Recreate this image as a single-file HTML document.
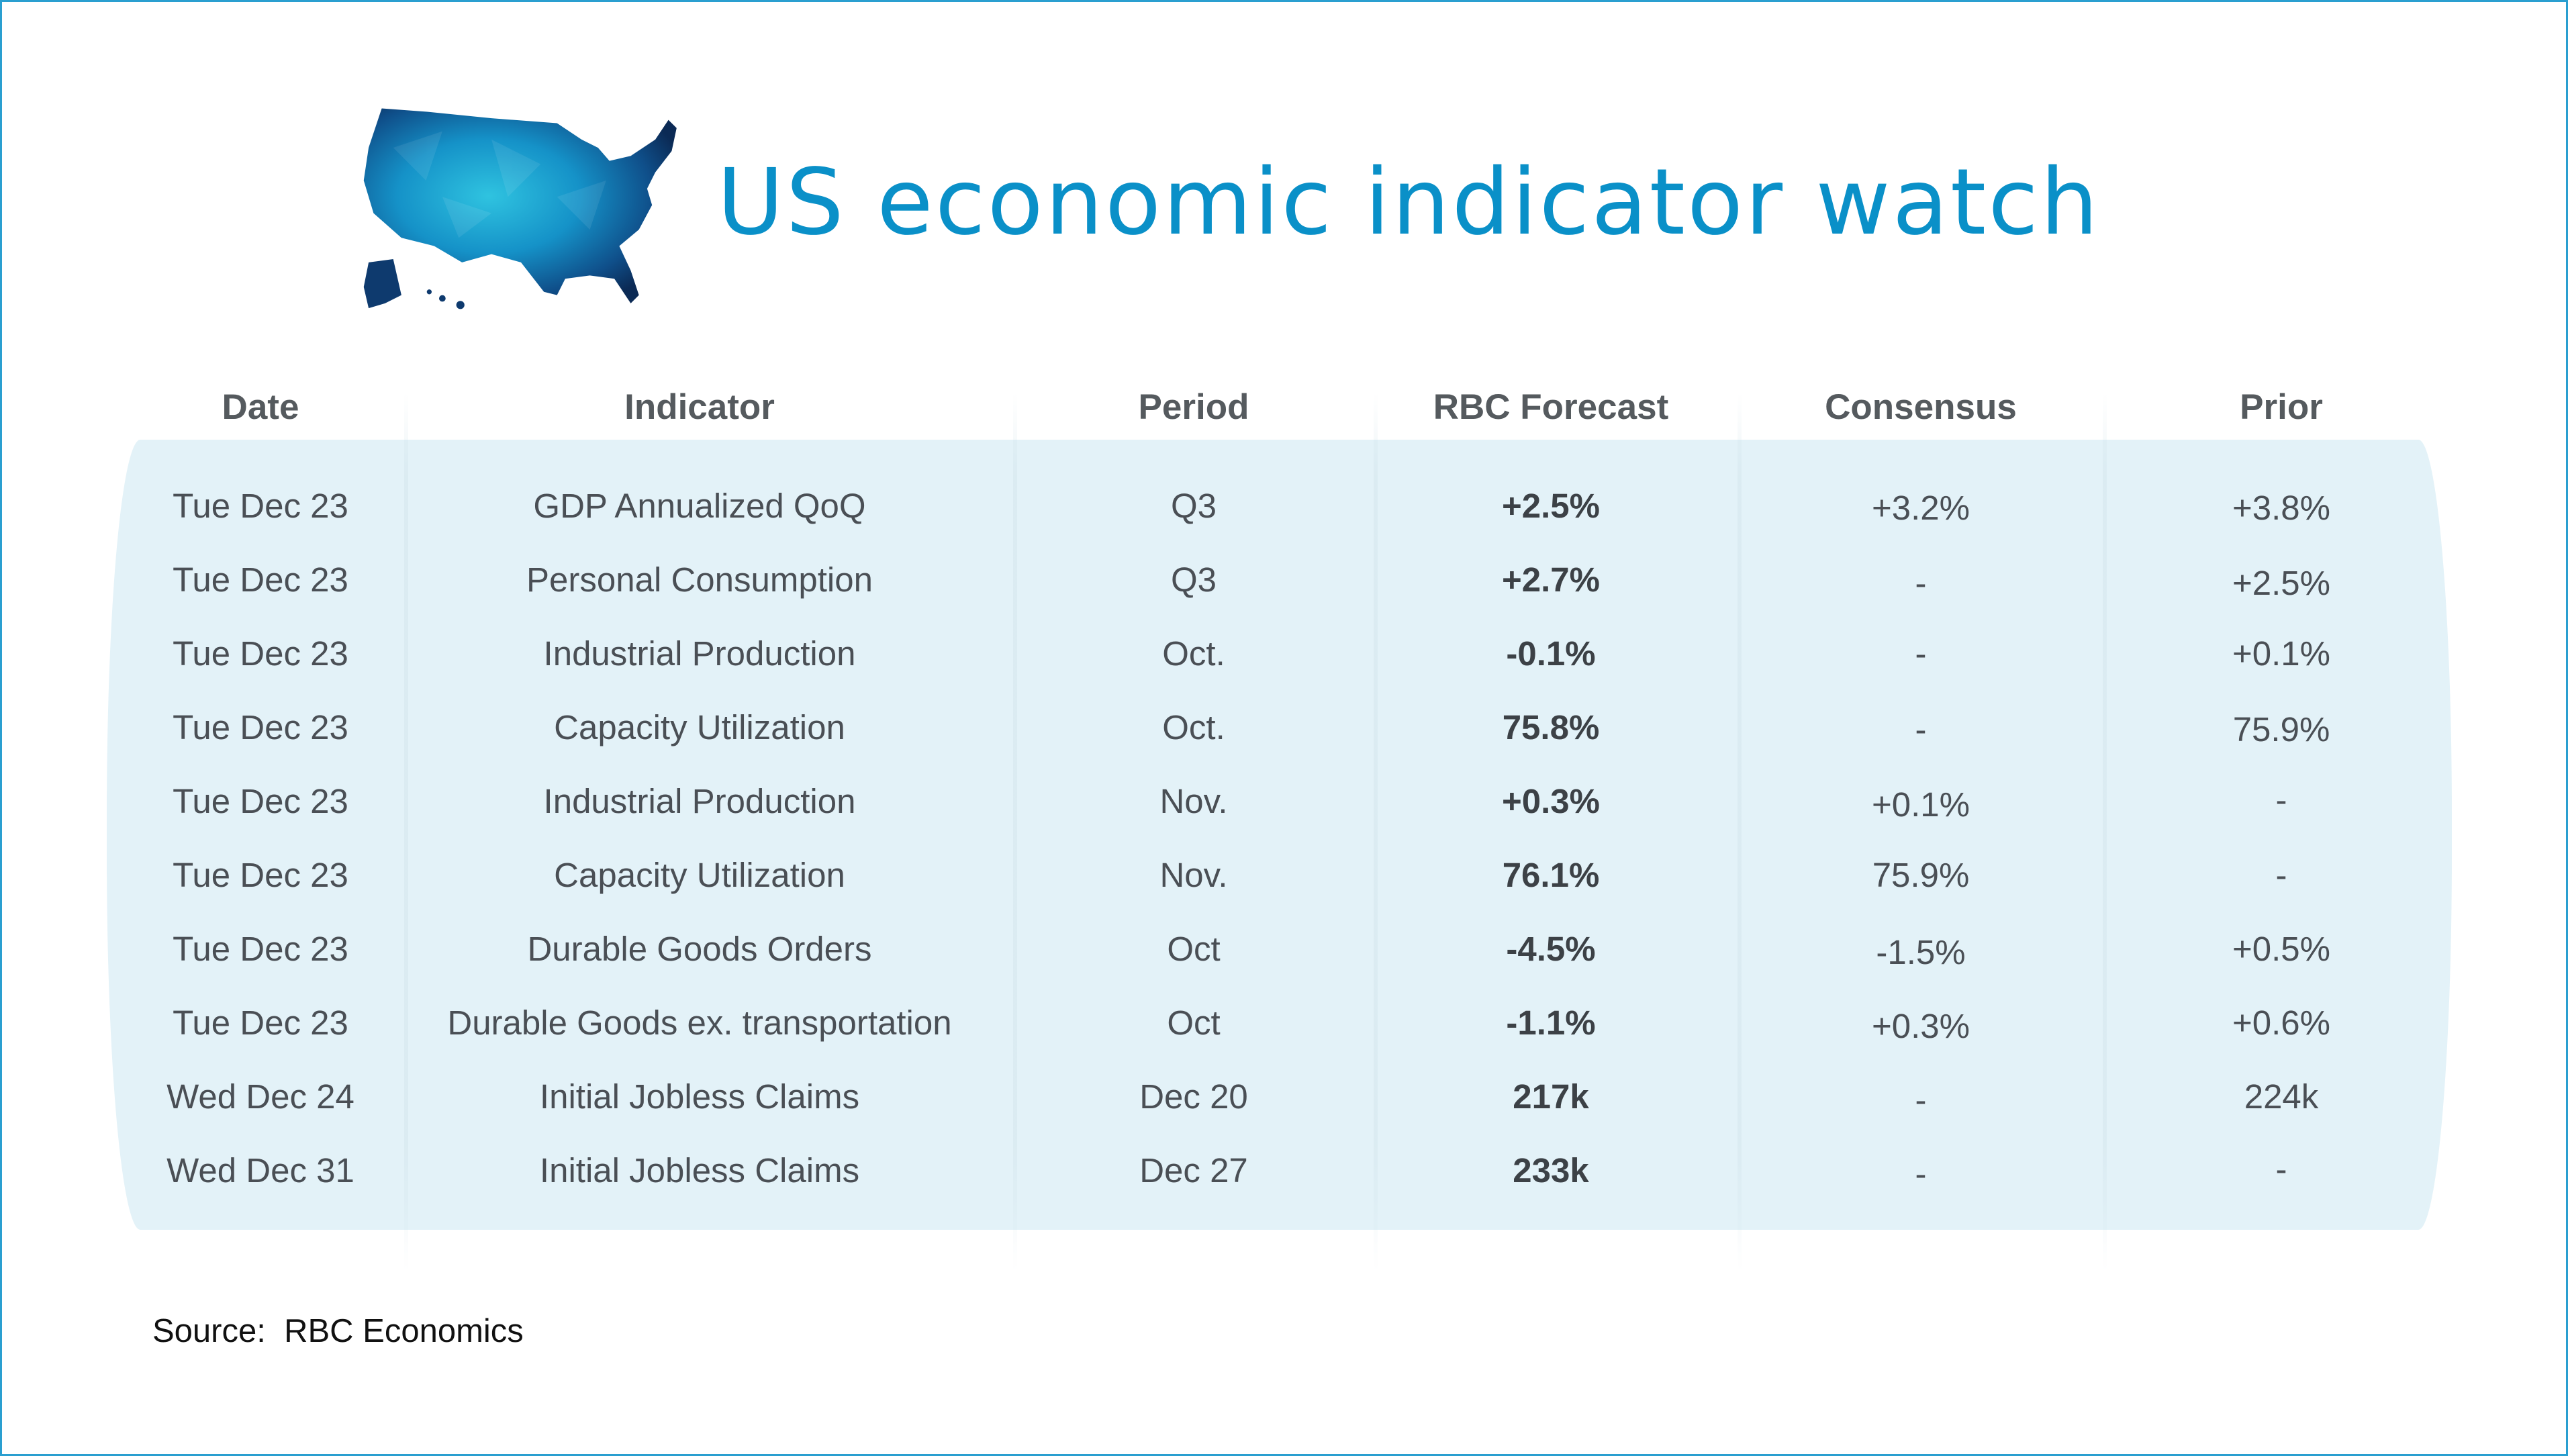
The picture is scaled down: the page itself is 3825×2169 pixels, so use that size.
<!DOCTYPE html>
<html><head><meta charset="utf-8"><style>
html,body{margin:0;padding:0;}
body{width:3825px;height:2169px;position:relative;background:#fff;overflow:hidden;font-family:"Liberation Sans",sans-serif;}
.frame{position:absolute;left:0;top:0;width:3819px;height:2163px;border:3px solid #2a9fd0;}
.title{position:absolute;left:1068px;top:212px;font-family:"DejaVu Sans","Liberation Sans",sans-serif;font-size:136px;line-height:180px;color:#0a90c8;letter-spacing:3px;white-space:nowrap;}
.panel{position:absolute;left:159px;top:655px;width:3493px;height:1177px;background:#e3f2f8;border-radius:50px 50px 50px 50px / 560px 560px 560px 560px;}
.sep{position:absolute;top:585px;width:6px;height:1310px;background:linear-gradient(to bottom,rgba(200,220,228,0),rgba(200,220,228,0.3) 10%,rgba(200,220,228,0.3) 85%,rgba(200,220,228,0));}
.c{position:absolute;text-align:center;white-space:nowrap;height:60px;line-height:60px;font-size:51px;color:#4a4f55;}
.h{font-weight:bold;color:#555a5e;font-size:53px;}
.b{font-weight:bold;color:#3c4146;}
.src{position:absolute;left:227px;top:1955px;font-size:49px;color:#111;white-space:pre;}
</style></head><body>
<div class="frame"></div>
<svg style="position:absolute;left:532px;top:154px" width="488" height="320" viewBox="218 63 200 131">
<defs><radialGradient id="g" cx="0.4" cy="0.45" r="0.65"><stop offset="0" stop-color="#2fc3e0"/><stop offset="0.45" stop-color="#1592c8"/><stop offset="0.8" stop-color="#0f4f8a"/><stop offset="1" stop-color="#0b2a55"/></radialGradient></defs>
<polygon fill="url(#g)" points="233,66 260,68 300,72 340,75 355,85 365,90 372,98 385,95 400,85 408,73 413,78 410,92 400,105 395,115 398,125 390,140 378,150 385,165 390,180 385,185 375,170 360,168 345,170 340,180 332,178 318,160 300,155 282,160 265,150 245,145 228,130 222,110 225,90"/>
<g fill="#ffffff" opacity="0.08"><polygon points="240,90 270,80 260,110"/><polygon points="300,85 330,100 310,120"/><polygon points="270,120 300,130 280,145"/><polygon points="340,120 370,110 360,140"/></g>
<polygon fill="#0e3a6e" points="225,160 240,158 245,180 235,185 225,188 222,175"/>
<circle cx="262" cy="178" r="1.5" fill="#0e3a6e"/><circle cx="270" cy="182" r="2" fill="#0e3a6e"/><circle cx="281" cy="186" r="2.5" fill="#0e3a6e"/>
</svg>
<div class="title">US economic indicator watch</div>
<div class="panel"></div>
<div class="sep" style="left:602px"></div>
<div class="sep" style="left:1509px"></div>
<div class="sep" style="left:2046px"></div>
<div class="sep" style="left:2588px"></div>
<div class="sep" style="left:3132px"></div>

<div class="c h" style="left:188px;width:400px;top:577px">Date</div>
<div class="c h" style="left:742px;width:600px;top:577px">Indicator</div>
<div class="c h" style="left:1578px;width:400px;top:577px">Period</div>
<div class="c h" style="left:2060px;width:500px;top:577px">RBC Forecast</div>
<div class="c h" style="left:2611px;width:500px;top:577px">Consensus</div>
<div class="c h" style="left:3198px;width:400px;top:577px">Prior</div>

<div class="c" style="left:188px;width:400px;top:724px">Tue Dec 23</div><div class="c" style="left:642px;width:800px;top:724px">GDP Annualized QoQ</div><div class="c" style="left:1578px;width:400px;top:724px">Q3</div><div class="c b" style="left:2110px;width:400px;top:724px">+2.5%</div><div class="c" style="left:2661px;width:400px;top:727px">+3.2%</div><div class="c" style="left:3198px;width:400px;top:727px">+3.8%</div>
<div class="c" style="left:188px;width:400px;top:834px">Tue Dec 23</div><div class="c" style="left:642px;width:800px;top:834px">Personal Consumption</div><div class="c" style="left:1578px;width:400px;top:834px">Q3</div><div class="c b" style="left:2110px;width:400px;top:834px">+2.7%</div><div class="c" style="left:2661px;width:400px;top:839px">-</div><div class="c" style="left:3198px;width:400px;top:839px">+2.5%</div>
<div class="c" style="left:188px;width:400px;top:944px">Tue Dec 23</div><div class="c" style="left:642px;width:800px;top:944px">Industrial Production</div><div class="c" style="left:1578px;width:400px;top:944px">Oct.</div><div class="c b" style="left:2110px;width:400px;top:944px">-0.1%</div><div class="c" style="left:2661px;width:400px;top:944px">-</div><div class="c" style="left:3198px;width:400px;top:944px">+0.1%</div>
<div class="c" style="left:188px;width:400px;top:1054px">Tue Dec 23</div><div class="c" style="left:642px;width:800px;top:1054px">Capacity Utilization</div><div class="c" style="left:1578px;width:400px;top:1054px">Oct.</div><div class="c b" style="left:2110px;width:400px;top:1054px">75.8%</div><div class="c" style="left:2661px;width:400px;top:1057px">-</div><div class="c" style="left:3198px;width:400px;top:1057px">75.9%</div>
<div class="c" style="left:188px;width:400px;top:1164px">Tue Dec 23</div><div class="c" style="left:642px;width:800px;top:1164px">Industrial Production</div><div class="c" style="left:1578px;width:400px;top:1164px">Nov.</div><div class="c b" style="left:2110px;width:400px;top:1164px">+0.3%</div><div class="c" style="left:2661px;width:400px;top:1169px">+0.1%</div><div class="c" style="left:3198px;width:400px;top:1162px">-</div>
<div class="c" style="left:188px;width:400px;top:1274px">Tue Dec 23</div><div class="c" style="left:642px;width:800px;top:1274px">Capacity Utilization</div><div class="c" style="left:1578px;width:400px;top:1274px">Nov.</div><div class="c b" style="left:2110px;width:400px;top:1274px">76.1%</div><div class="c" style="left:2661px;width:400px;top:1274px">75.9%</div><div class="c" style="left:3198px;width:400px;top:1274px">-</div>
<div class="c" style="left:188px;width:400px;top:1384px">Tue Dec 23</div><div class="c" style="left:642px;width:800px;top:1384px">Durable Goods Orders</div><div class="c" style="left:1578px;width:400px;top:1384px">Oct</div><div class="c b" style="left:2110px;width:400px;top:1384px">-4.5%</div><div class="c" style="left:2661px;width:400px;top:1389px">-1.5%</div><div class="c" style="left:3198px;width:400px;top:1384px">+0.5%</div>
<div class="c" style="left:188px;width:400px;top:1494px">Tue Dec 23</div><div class="c" style="left:642px;width:800px;top:1494px">Durable Goods ex. transportation</div><div class="c" style="left:1578px;width:400px;top:1494px">Oct</div><div class="c b" style="left:2110px;width:400px;top:1494px">-1.1%</div><div class="c" style="left:2661px;width:400px;top:1499px">+0.3%</div><div class="c" style="left:3198px;width:400px;top:1494px">+0.6%</div>
<div class="c" style="left:188px;width:400px;top:1604px">Wed Dec 24</div><div class="c" style="left:642px;width:800px;top:1604px">Initial Jobless Claims</div><div class="c" style="left:1578px;width:400px;top:1604px">Dec 20</div><div class="c b" style="left:2110px;width:400px;top:1604px">217k</div><div class="c" style="left:2661px;width:400px;top:1609px">-</div><div class="c" style="left:3198px;width:400px;top:1604px">224k</div>
<div class="c" style="left:188px;width:400px;top:1714px">Wed Dec 31</div><div class="c" style="left:642px;width:800px;top:1714px">Initial Jobless Claims</div><div class="c" style="left:1578px;width:400px;top:1714px">Dec 27</div><div class="c b" style="left:2110px;width:400px;top:1714px">233k</div><div class="c" style="left:2661px;width:400px;top:1719px">-</div><div class="c" style="left:3198px;width:400px;top:1712px">-</div>

<div class="src">Source:  RBC Economics</div>
</body></html>
